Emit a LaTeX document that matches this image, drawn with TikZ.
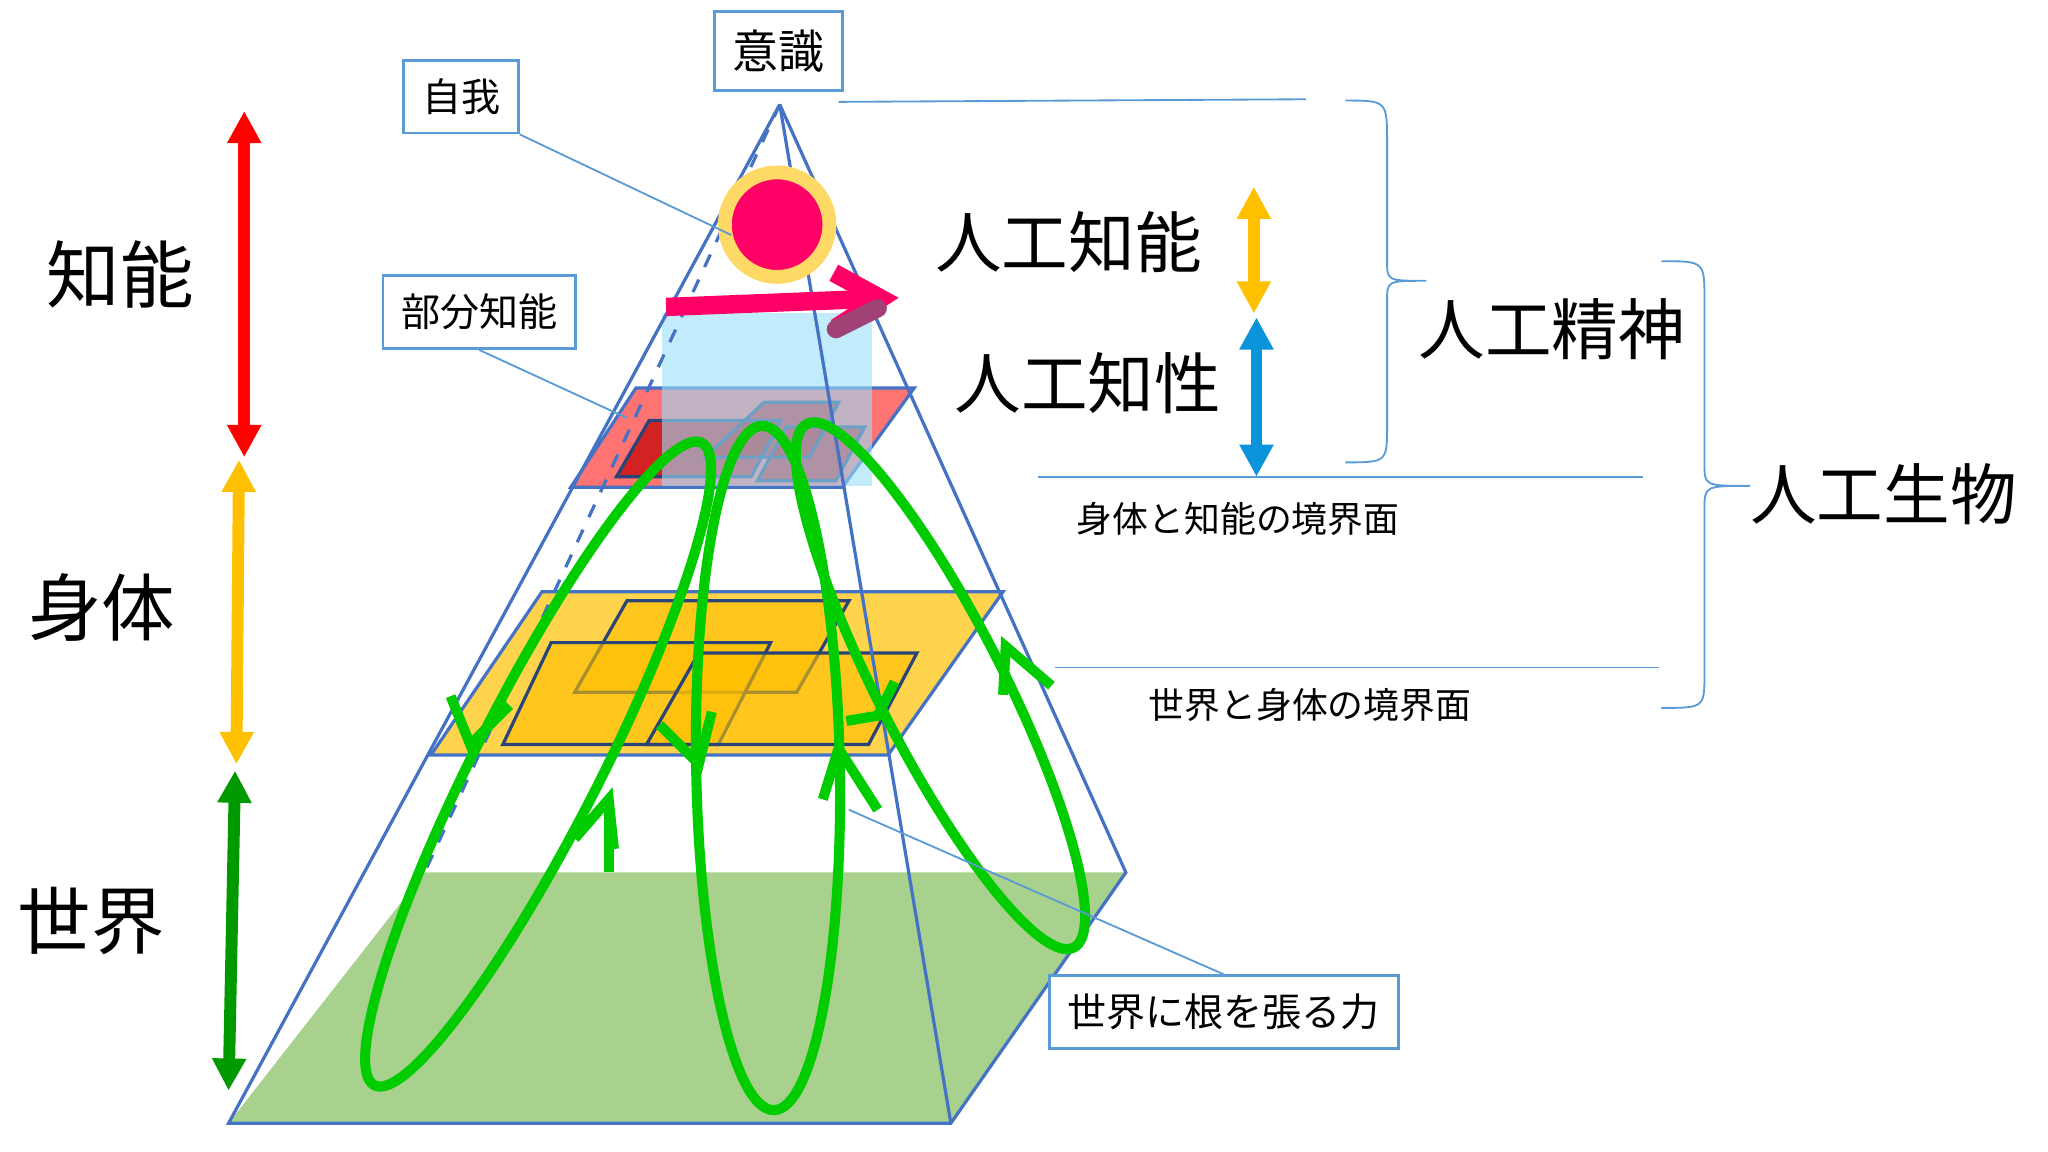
\documentclass[tikz,border=0pt]{standalone}
\usepackage{fontspec}
\setmainfont{Noto Sans CJK JP}
\usetikzlibrary{arrows.meta,decorations.pathreplacing}
\definecolor{edge}{HTML}{4472C4}
\definecolor{boxc}{HTML}{5B9BD5}
\definecolor{grn}{HTML}{00CC00}
\definecolor{base}{HTML}{A9D18E}
\definecolor{ylw}{HTML}{FFC000}
\definecolor{pnk}{HTML}{FF0066}
\tikzset{
 lbox/.style={draw=boxc,fill=white,line width=0.6pt,inner sep=4pt,font=\fontsize{8.5}{10}\selectfont},
 big/.style={font=\fontsize{16}{18}\selectfont},
 mid/.style={font=\fontsize{14.5}{16}\selectfont},
 small/.style={font=\fontsize{7.8}{9}\selectfont},
 thin/.style={draw=boxc,line width=0.4pt},
 pedge/.style={draw=edge,line width=0.7pt},
 loop/.style={draw=grn,line width=2.2pt},
 dbl/.style={line width=2.6pt,{Triangle[length=7pt,width=7pt]}-{Triangle[length=7pt,width=7pt]}},
}
\begin{document}
\begin{tikzpicture}[x=0.01cm,y=-0.01cm]
\useasboundingbox (0,0) rectangle (1568,882);
% base
\fill[base] (175,860)--(728,860)--(862,668)--(325,668)--cycle;
% yellow layer
\fill[ylw!70] (330,578)--(680,578)--(768,453)--(415,453)--cycle;
\draw[pedge] (330,578)--(680,578)--(768,453)--(415,453)--cycle;
\fill[ylw,opacity=0.6] (440,530)--(610,530)--(650,460)--(480,460)--cycle;
\draw[pedge,draw=edge!60!black] (440,530)--(610,530)--(650,460)--(480,460)--cycle;
\fill[ylw,opacity=0.6] (385,570)--(550,570)--(590,492)--(422,492)--cycle;
\draw[pedge,draw=edge!60!black] (385,570)--(550,570)--(590,492)--(422,492)--cycle;
\fill[ylw,opacity=0.6] (495,570)--(665,570)--(702,500)--(535,500)--cycle;
\draw[pedge,draw=edge!60!black] (495,570)--(665,570)--(702,500)--(535,500)--cycle;
% red layer
\fill[red!55] (437,373)--(645,373)--(700,297)--(487,297)--cycle;
\draw[pedge] (437,373)--(645,373)--(700,297)--(487,297)--cycle;
\fill[red!75!black,opacity=0.7] (472,365)--(575,365)--(598,322)--(497,322)--cycle;
\fill[red!75!black,opacity=0.7] (540,350)--(620,350)--(642,308)--(585,308)--cycle;
\fill[red!75!black,opacity=0.7] (580,368)--(640,368)--(662,327)--(602,327)--cycle;
\draw[pedge,draw=edge!60!black] (472,365)--(575,365)--(598,322)--(497,322)--cycle;
\draw[pedge,draw=edge!60!black] (540,350)--(620,350)--(642,308)--(585,308)--cycle;
\draw[pedge,draw=edge!60!black] (580,368)--(640,368)--(662,327)--(602,327)--cycle;
% blue column
\fill[cyan!40,opacity=0.6] (507,240) rectangle (668,372);
% pyramid edges
\coordinate (apex) at (597,80);
\draw[pedge] (apex)--(175,860)--(728,860)--(862,668)--(apex);
\draw[pedge] (apex)--(728,860);
\draw[pedge,dashed] (apex)--(325,668);
% green loops
\draw[loop,rotate around={-27:(412,585)}] (412,585) ellipse (48 and 276);
\draw[loop,rotate around={1:(588,588)}] (588,588) ellipse (55 and 262);
\draw[loop,rotate around={27:(720,525)}] (720,525) ellipse (48 and 225);
\draw[loop] (466,668)--(466,615);
\draw[loop] (440,642)--(466,612)--(470,650);
\draw[loop] (345,533)--(360,570)--(390,540);
\draw[loop] (505,555)--(535,585)--(545,545);
\draw[loop] (630,612)--(642,573)--(672,620);
\draw[loop] (648,552)--(672,548)--(685,522);
\draw[loop] (768,532)--(770,495)--(805,525);
% self circle
\node[circle,fill=pnk,draw=ylw!60,line width=3pt,minimum size=0.8cm] (ego) at (595,172) {};
% pink arrow
\draw[pnk,line width=4pt,-{Straight Barb[length=10pt,width=12pt]}] (510,235)--(688,228);
\draw[magenta!60!black,line width=4pt,line cap=round] (640,252)--(672,236);
% left arrows
\draw[red,dbl] (187,85)--(187,350);
\draw[ylw,dbl] (183,352)--(181,585);
\draw[green!60!black,dbl] (180,590)--(175,835);
\node[big] (l1) at (92,210) {知能};
\node[big] (l2) at (78,465) {身体};
\node[big] (l3) at (70,705) {世界};
% right arrows
\draw[ylw,dbl] (960,143)--(960,240);
\draw[cyan!80!blue,dbl] (962,243)--(962,365);
\node[mid] (r1) at (818,185) {人工知能};
\node[mid] (r2) at (833,293) {人工知性};
\node[mid] (r3) at (1188,252) {人工精神};
\node[mid] (r4) at (1442,378) {人工生物};
% guide lines
\draw[thin] (642,78)--(1000,76);
\draw[thin] (795,365)--(1258,365);
\draw[thin] (808,511)--(1270,511);
\draw[thin] (1030,77) .. controls (1062,77) .. (1062,110) -- (1062,200) .. controls (1062,215) .. (1092,215) .. controls (1062,215) .. (1062,230) -- (1062,325) .. controls (1062,354) .. (1030,354);
\draw[thin] (1272,200) .. controls (1305,200) .. (1305,230) -- (1305,355) .. controls (1305,372) .. (1340,372) .. controls (1305,372) .. (1305,390) -- (1305,515) .. controls (1305,542) .. (1272,542);
\node[small] (t1) at (948,397) {身体と知能の境界面};
\node[small] (t2) at (1003,540) {世界と身体の境界面};
% labelled boxes
\node[lbox,font=\fontsize{10}{12}\selectfont] (ishiki) at (596,39) {意識};
\node[lbox] (jiga) at (353,74) {自我};
\node[lbox] (bubun) at (367,239) {部分知能};
\node[lbox] (ne) at (937,775) {世界に根を張る力};
\coordinate (c1) at (560,180);
\coordinate (c2) at (480,320);
\coordinate (c3) at (650,620);
\draw[thin] (jiga.south east)--(c1);
\draw[thin] (bubun.south)--(c2);
\draw[thin] (ne.north)--(c3);
\end{tikzpicture}
\end{document}
